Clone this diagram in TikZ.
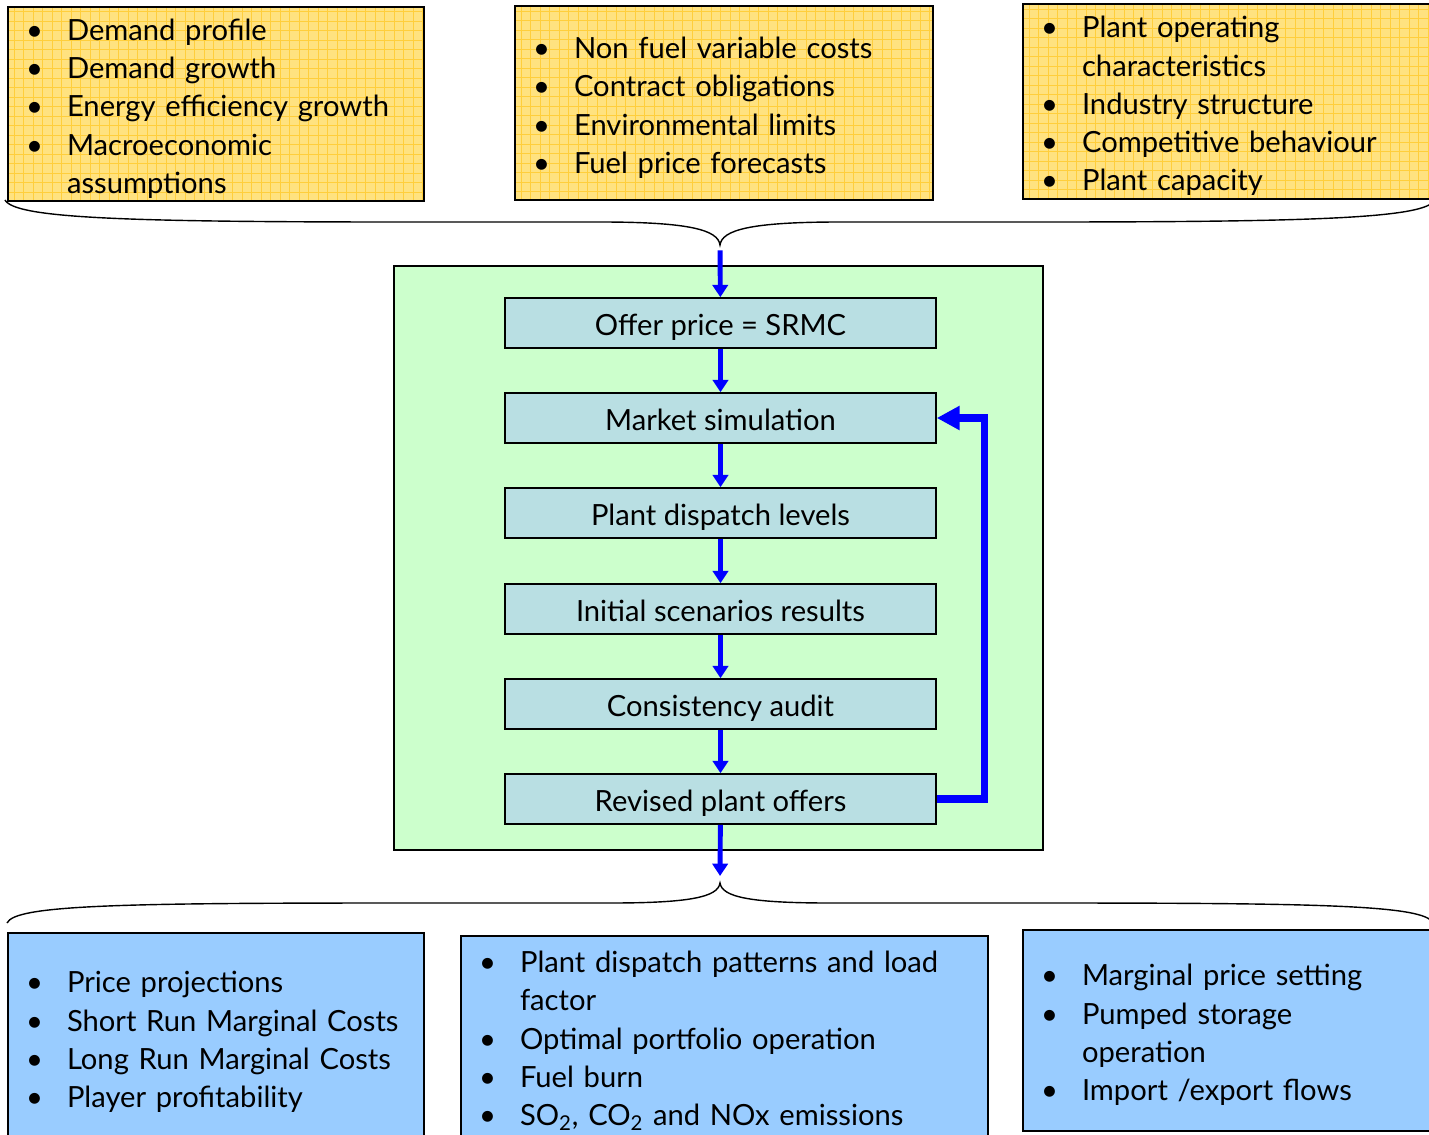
\documentclass[tikz,border=0pt]{standalone}
\usepackage{fontspec}
\setmainfont{Lato}
\usepackage{tikz}
\usetikzlibrary{arrows.meta}

\definecolor{inyellow}{RGB}{255,226,128}
\definecolor{ingrid}{RGB}{255,206,60}
\definecolor{outblue}{RGB}{153,204,255}
\definecolor{simgreen}{RGB}{204,255,204}
\definecolor{stagecyan}{RGB}{185,223,227}
\definecolor{flowblue}{RGB}{0,0,255}

\newcommand{\bul}[1]{\mbox{\makebox[0.68cm][l]{\kern-0.14cm\textbullet}#1}}
\newcommand{\cont}[1]{\mbox{\hspace*{0.68cm}#1}}

\begin{document}
\begin{tikzpicture}[x=0.02cm,y=-0.02cm,
    every node/.style={font=\fontsize{16.6}{21.8}\selectfont},
    listbox/.style={draw,line width=1pt,align=left,inner xsep=0.5cm,inner ysep=0pt,
        execute at begin node={\rule{0pt}{17.5pt}}},
    inbox/.style={listbox,fill=inyellow,
        path picture={\draw[ingrid,line width=0.4pt,step=0.19cm]
            (path picture bounding box.south west) grid (path picture bounding box.north east);}},
    outbox/.style={listbox,fill=outblue},
    stage/.style={draw,line width=0.9pt,fill=stagecyan,minimum width=8.62cm,minimum height=1cm,
        text height=14pt,text depth=0pt},
    flow/.style={flowblue,line width=2.8pt,-{Triangle[width=8.7pt,length=7pt]}},
    back/.style={flowblue,line width=4.2pt,-{Triangle[width=13pt,length=13pt]}},
    brace/.style={line width=0.8pt}]
\useasboundingbox (0,0) rectangle (1429,1135);

% inputs
\node[inbox,text width=7.32cm,minimum height=3.88cm] (demand) at (216,104)
  {\bul{Demand profile}\\ \bul{Demand growth}\\ \bul{Energy efficiency growth}\\
   \bul{Macroeconomic}\\ \cont{assumptions}};
\node[inbox,text width=7.36cm,minimum height=3.88cm] (costs) at (724,103)
  {\bul{Non fuel variable costs}\\ \bul{Contract obligations}\\
   \bul{Environmental limits}\\ \bul{Fuel price forecasts}};
\node[inbox,text width=7.24cm,minimum height=3.9cm] (plant) at (1229,101.5)
  {\bul{Plant operating}\\ \cont{characteristics}\\ \bul{Industry structure}\\
   \bul{Competitive behaviour}\\ \bul{Plant capacity}};

% top brace
\coordinate (tin) at (720,245);
\draw[brace] (5,200) .. controls (15,218) and (120,222) .. (400,222) -- (600,222)
  .. controls (690,222) and (718,230) .. (tin)
  .. controls (722,230) and (750,222) .. (840,222) -- (1040,222)
  .. controls (1320,222) and (1425,218) .. (1435,200);

% simulation loop
\node[draw,line width=1pt,fill=simgreen,minimum width=12.98cm,minimum height=11.68cm] (sim) at (718.5,558) {};
\node[stage] (s1) at (720.5,323) {Offer price = SRMC};
\node[stage] (s2) at (720.5,418) {Market simulation};
\node[stage] (s3) at (720.5,513) {Plant dispatch levels};
\node[stage] (s4) at (720.5,609) {Initial scenarios results};
\node[stage] (s5) at (720.5,704) {Consistency audit};
\node[stage] (s6) at (720.5,799) {Revised plant offers};

\draw[flow,shorten <=3pt] (tin) -- (s1);
\draw[flow] (s1) -- (s2);
\draw[flow] (s2) -- (s3);
\draw[flow] (s3) -- (s4);
\draw[flow] (s4) -- (s5);
\draw[flow] (s5) -- (s6);
\draw[back] (s6.east) -- ++(48,0) |- (s2.east);

% bottom brace
\coordinate (tout) at (720,883);
\draw[flow,shorten >=4pt] (s6) -- (tout);
\draw[brace] (7,923) .. controls (15,905) and (120,903) .. (400,903) -- (610,903)
  .. controls (690,903) and (718,897) .. (tout)
  .. controls (722,897) and (750,903) .. (830,903) -- (1040,903)
  .. controls (1320,903) and (1425,905) .. (1433,923);

% outputs
\node[outbox,text width=7.32cm,minimum height=4.18cm] (prices) at (216,1037.5)
  {\bul{Price projections}\\ \bul{Short Run Marginal Costs}\\
   \bul{Long Run Marginal Costs}\\ \bul{Player profitability}};
\node[outbox,text width=9.54cm,minimum height=4.0cm] (dispatch) at (724.5,1036)
  {\bul{Plant dispatch patterns and load}\\ \cont{factor}\\
   \bul{Optimal portfolio operation}\\ \bul{Fuel burn}\\
   \bul{SO\textsubscript{2}, CO\textsubscript{2} and NOx emissions}};
\node[outbox,text width=7.24cm,minimum height=4.02cm] (market) at (1229,1030.5)
  {\bul{Marginal price setting}\\ \bul{Pumped storage}\\ \cont{operation}\\
   \bul{Import /export flows}};
\end{tikzpicture}
\end{document}
